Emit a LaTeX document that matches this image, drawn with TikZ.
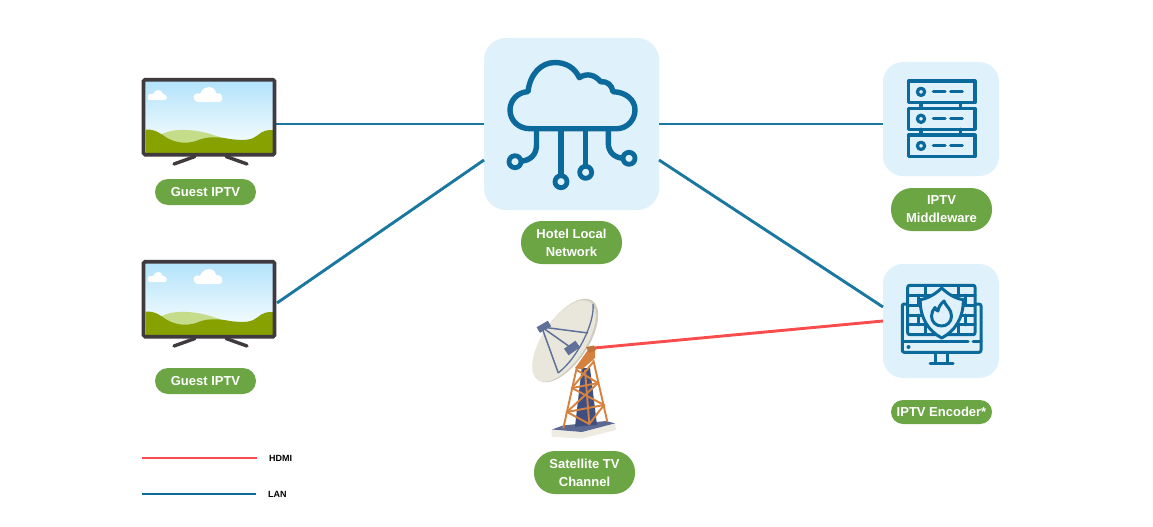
\documentclass[tikz,border=0pt]{standalone}
\usepackage{fontspec}
\setmainfont{Liberation Sans}
\usetikzlibrary{calc}
\definecolor{iconblue}{HTML}{0B6A9B}
\definecolor{lanblue}{HTML}{1A779F}
\definecolor{panel}{HTML}{DFF1FA}
\definecolor{hdmired}{HTML}{F94C4C}
\definecolor{pillgreen}{HTML}{6BA544}
\definecolor{tvframe}{HTML}{403A3F}
\definecolor{hilldark}{HTML}{87A200}
\definecolor{hilllight}{HTML}{C5DC8A}
\definecolor{skytop}{HTML}{B3E3FB}
\definecolor{skylow}{HTML}{F2FBFE}
\definecolor{towerorange}{HTML}{D5813F}
\definecolor{navy}{HTML}{3F4F80}
\definecolor{dishface}{HTML}{E9E6DC}
\definecolor{dishrim}{HTML}{CFCBBF}
\definecolor{plinth}{HTML}{EDEBE2}
\definecolor{strut}{HTML}{5F7099}
\tikzset{
  panelbox/.style={fill=panel,draw=none,rounded corners=#1,inner sep=0pt,outer sep=0pt},
  pill/.style={fill=pillgreen,draw=none,text=white,align=center,inner sep=0pt,outer sep=0pt,
    minimum width=101pt,font=\fontsize{13}{18}\selectfont\bfseries},
  lan/.style={draw=lanblue,line width=2.9pt},
  hdmi/.style={draw=hdmired,line width=2.9pt},
  icon/.style={draw=iconblue,line width=#1,line cap=round,line join=round},
  icon/.default=3.2pt,
  legendtext/.style={font=\fontsize{9}{10}\selectfont\bfseries,text=black,inner sep=0pt,anchor=west},
  tvbody/.style={draw=tvframe,line width=3.6pt,rounded corners=1.5pt,minimum width=131pt,
    minimum height=75pt,inner sep=0pt,outer sep=0pt},
  cloudpuff/.style={fill=white,draw=none},
}
% Television with a landscape on its screen
\newcommand{\tvset}[2]{%
  \begin{scope}[shift={(0,#2)}]
    \begin{scope}
      \clip (145.5,81.5) rectangle (272.8,153.5);
      \shade[top color=skytop,bottom color=skylow] (145,81) rectangle (273,142);
      \fill[skylow] (145,141) rectangle (273,154);
      \fill[hilllight] (158,136) .. controls (168,130) and (180,128.5) .. (197,131)
        .. controls (210,133) and (218,137) .. (228,139.5) -- (210,146) -- (170,146) -- cycle;
      \fill[hilldark] (145,129.5) .. controls (155,129) and (160,133) .. (167,138)
        .. controls (176,143) and (186,144) .. (196,141)
        .. controls (205,137) and (215,136) .. (230,139)
        .. controls (245,141) and (252,140) .. (258,135)
        .. controls (262,131) and (268,129.5) .. (273,130) -- (273,154) -- (145,154) -- cycle;
      \fill[cloudpuff] (148,98) .. controls (147,94) and (151,93) .. (153,94)
        .. controls (155,88.5) and (162,89) .. (163,94)
        .. controls (167,94) and (168,99) .. (165,100) -- (151,100) .. controls (149,100) and (148,99.5) .. (148,98) -- cycle;
      \fill[cloudpuff] (194,99) .. controls (192,95) and (197,92) .. (200,94)
        .. controls (203,85) and (215,85) .. (216,93)
        .. controls (222,92) and (225,100) .. (220,102) -- (198,102) .. controls (196,102) and (194.5,101) .. (194,99) -- cycle;
    \end{scope}
    \node[tvbody] (#1) at (209,117.2) {};
    \draw[tvframe,line width=3.4pt,line cap=round] (174,164) -- (195,156.5) (226,156.5) -- (247,164);
  \end{scope}}
\begin{document}
\begin{tikzpicture}[x=1pt,y=-1pt]
\useasboundingbox (0,0) rectangle (1153,527);
\fill[white] (0,0) rectangle (1153,527);

% connector end points on the borders of the icons
\coordinate (tvAport) at (275,124);
\coordinate (tvBport) at (277,303);
\coordinate (hubWa) at (484,124);
\coordinate (hubWb) at (484,160);
\coordinate (hubEa) at (659,124);
\coordinate (hubEb) at (659,160);
\coordinate (mwarePort) at (883,124);
\coordinate (encPortA) at (883,307);
\coordinate (encPortB) at (883,321);
\coordinate (dishPort) at (594,348);

% panels behind the icons
\node[panelbox=22pt,minimum width=175pt,minimum height=172pt] (hub) at (571.5,124) {};
\node[panelbox=20pt,minimum width=116pt,minimum height=114pt] (mware) at (941,119) {};
\node[panelbox=20pt,minimum width=116pt,minimum height=114pt] (enc) at (941,321) {};

% network links
\draw[lan] (tvAport) -- (hubWa);
\draw[lan] (tvBport) -- (hubWb);
\draw[lan] (hubEa) -- (mwarePort);
\draw[lan] (hubEb) -- (encPortA);
\draw[hdmi] (dishPort) -- (encPortB);

% televisions
\tvset{tvA}{0}
\tvset{tvB}{182}

% cloud with circuit traces
\begin{scope}[icon=5.4pt]
  \draw (530,128.7) .. controls (518,128.7) and (510,120) .. (510,110)
    .. controls (510,100) and (518,92) .. (528,91.7)
    .. controls (530,74) and (541,62.5) .. (555,62.5)
    .. controls (566,62.5) and (575,68) .. (579.3,77.7)
    .. controls (587,72.5) and (595,75) .. (600.7,81.7)
    .. controls (607,81) and (612,85) .. (613,91.7)
    .. controls (626,92) and (635,100) .. (635,110)
    .. controls (635,120) and (627,128.7) .. (616.7,128.7) -- cycle;
  \draw (536.5,129) -- (536.5,145) .. controls (536.5,155) and (530,160.5) .. (521,161.2);
  \draw (561,129) -- (561,175.5);
  \draw (585.7,129) -- (585.7,166.5);
  \draw (608.3,129) -- (608.3,143) .. controls (608.3,152) and (614,157.5) .. (623,158.3);
\end{scope}
\begin{scope}[icon=4.8pt]
  \draw[fill=panel] (515,161.7) circle (6pt);
  \draw[fill=panel] (561,181.7) circle (6pt);
  \draw[fill=panel] (585.7,172.3) circle (6pt);
  \draw[fill=panel] (629,158.3) circle (6pt);
\end{scope}

% server rack
\begin{scope}[icon]
  \foreach \top/\bot in {81/102.7,108.3/129.3,135/156.7}{
    \draw (908.3,\top) rectangle (975,\bot);
    \draw (921,{(\top+\bot)/2}) circle (3.6pt);
    \draw (933.3,{(\top+\bot)/2}) -- (945,{(\top+\bot)/2});
    \draw (950.7,{(\top+\bot)/2}) -- (962.3,{(\top+\bot)/2});
  }
  \draw (921,102.7) -- (921,108.3) (921,129.3) -- (921,135);
  \draw (960.7,102.7) -- (960.7,108.3) (960.7,129.3) -- (960.7,135);
\end{scope}

% monitor with brick wall and flame shield
\begin{scope}[icon=3pt]
  \draw (907,304) -- (904,304) .. controls (903,304) and (902.3,305) .. (902.3,306) -- (902.3,350)
    .. controls (902.3,351.5) and (903,352.3) .. (904,352.3) -- (979,352.3)
    .. controls (980.3,352.3) and (981,351.5) .. (981,350) -- (981,306)
    .. controls (981,305) and (980.3,304) .. (979,304) -- (975,304);
  \draw (902.3,341.5) -- (968,341.5) (973,341.5) -- (981,341.5);
  \fill[iconblue] (908.5,347) circle (2pt);
  \draw (935.5,352.5) -- (935.5,363.5) (947.5,352.5) -- (947.5,363.5);
  \draw (930,363.7) -- (953,363.7);
  \draw (910,285.3) -- (973,285.3) .. controls (974.5,285.3) and (975,286) .. (975,287.5) -- (975,332.5)
    .. controls (975,334) and (974.5,334.7) .. (973,334.7) -- (910,334.7)
    .. controls (908.5,334.7) and (907.7,334) .. (907.7,332.5) -- (907.7,287.5)
    .. controls (907.7,286) and (908.5,285.3) .. (910,285.3) -- cycle;
  \foreach \yy in {295.2,305.1,315,324.9}{\draw (907.7,\yy) -- (975,\yy);}
  \draw (925,285.3) -- (925,295.2) (958,285.3) -- (958,295.2)
        (918,295.2) -- (918,305.1) (965,295.2) -- (965,305.1)
        (925,305.1) -- (925,315) (958,305.1) -- (958,315)
        (918,315) -- (918,324.9) (965,315) -- (965,324.9)
        (925,324.9) -- (925,334.7) (958,324.9) -- (958,334.7);
  \filldraw[fill=panel] (941.7,288) .. controls (948,294) and (955,298.5) .. (963.3,299.7)
    .. controls (963.5,318) and (955,331) .. (941.7,338)
    .. controls (928.5,331) and (920,318) .. (920.2,299.7)
    .. controls (928,298.5) and (935.5,294) .. (941.7,288) -- cycle;
  \draw (944,301) .. controls (945.5,306) and (951.5,309) .. (951.5,316)
    .. controls (951.5,322) and (947,326) .. (941.7,326)
    .. controls (936,326) and (931.5,322) .. (931.5,316)
    .. controls (931.5,312.5) and (933,310) .. (935,307.5)
    .. controls (935.5,309.5) and (936.5,310.5) .. (938,311)
    .. controls (938.5,307) and (941,303.5) .. (944,301) -- cycle;
\end{scope}

% satellite dish on a lattice tower
\fill[plinth] (551.7,430) -- (582,432) -- (615,423.5) -- (616,430) -- (582,438.5) -- (551.7,436.7) -- cycle;
\fill[navy!85!white] (552,429.5) -- (563,425.5) -- (606,421) -- (615,423.3) -- (582,432) -- cycle;
\fill[navy] (581.7,368) -- (590,368) -- (597,425) -- (575,426.7) -- cycle;
\begin{scope}[draw=towerorange,line width=1.9pt]
  \draw (576.7,368) -- (563.3,428.3);
  \draw (593.3,360) -- (607.3,421.7);
  \draw (585,370) -- (589.3,424);
  \draw (572,388) -- (598,383) (567,412) -- (604,405);
  \draw (576.7,370) -- (598,383) -- (567,412) -- (589.3,424) -- (604,405) -- (572,388) -- (593.3,362);
\end{scope}
\fill[towerorange] (575,368) -- (578,364) -- (590,347) -- (595,346.5) -- (595,358) -- (582,369.5) -- cycle;
\fill[dishrim,rotate around={56:(565.5,340.5)}] (565.5,340.5) ellipse (48pt and 22.5pt);
\fill[dishface,rotate around={56:(564,341)}] (564,341) ellipse (47pt and 21.5pt);
\draw[strut,line width=1.3pt] (593,304) .. controls (595,322) and (578,358) .. (558,373);
\draw[strut,line width=1.5pt] (541.7,327) -- (588,333) (541.7,327) -- (558.3,373) (541.7,327) -- (570,347);
\fill[strut,rotate around={30:(544,327)}] (537.5,323.5) rectangle (550.5,330);
\fill[strut,rotate around={35:(572,348)}] (565,344) rectangle (579,352);
\fill[towerorange!90!black] (586,347) -- (594,345.5) -- (596,350) -- (589,353) -- cycle;

% labels
\node[pill,rounded corners=13pt,minimum height=26pt] (lblA) at (205.5,192) {Guest IPTV};
\node[pill,rounded corners=13pt,minimum height=26pt] (lblB) at (205.5,381) {Guest IPTV};
\node[pill,rounded corners=21pt,minimum height=43pt] (lblHub) at (571.5,242.5) {Hotel Local\\Network};
\node[pill,rounded corners=21pt,minimum height=43pt] (lblSat) at (584.5,472.5) {Satellite TV\\Channel};
\node[pill,rounded corners=21pt,minimum height=43pt] (lblMw) at (941.5,209.5) {IPTV\\Middleware};
\node[pill,rounded corners=12pt,minimum height=24pt] (lblEnc) at (941.5,412) {IPTV Encoder*};

% legend
\coordinate (hdmiFrom) at (142,458);
\coordinate (lanFrom) at (142,494);
\node[legendtext] (hdmiName) at (269,458) {HDMI};
\node[legendtext] (lanName) at (268,494.5) {LAN};
\coordinate (hdmiTo) at (257,458);
\coordinate (lanTo) at (256,494);
\draw[hdmi] (hdmiFrom) -- (hdmiTo);
\draw[draw=iconblue,line width=2.9pt] (lanFrom) -- (lanTo);
\end{tikzpicture}
\end{document}
